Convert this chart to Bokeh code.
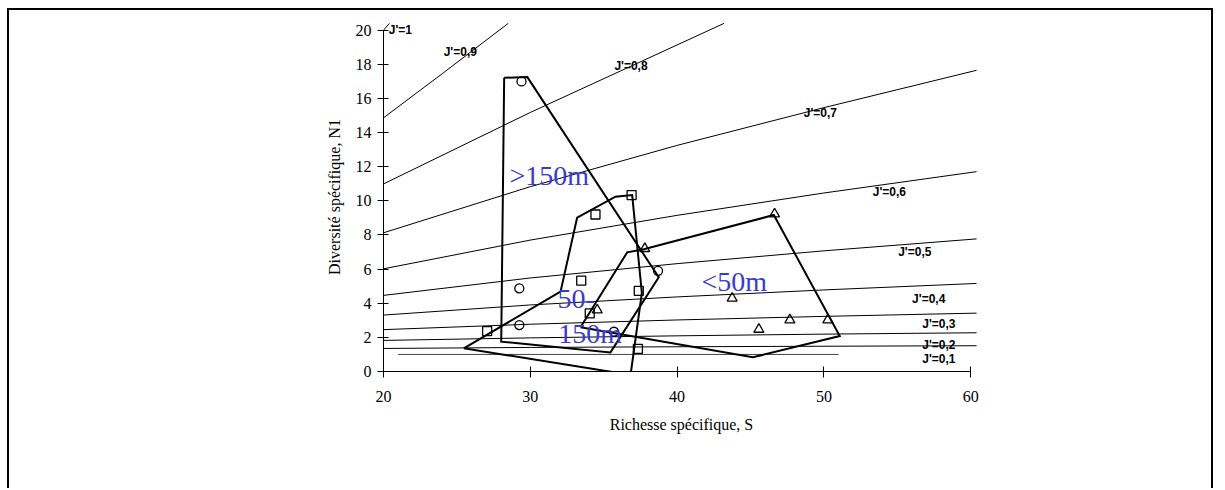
from bokeh.plotting import figure
from bokeh.models import Range1d, FixedTicker
from bokeh.embed import file_html
from bokeh.resources import INLINE
from bokeh.core.properties import value

# ---------------- data ----------------
# stations > 150 m (circles)
deep_S = [29.4, 29.25, 29.25, 35.7, 38.7]
deep_N1 = [17.0, 4.87, 2.72, 2.33, 5.9]
# stations 50-150 m (squares)
mid_S = [36.9, 34.44, 33.47, 34.05, 27.06, 37.39, 37.33]
mid_N1 = [10.34, 9.2, 5.32, 3.41, 2.37, 4.73, 1.32]
# stations < 50 m (triangles)
shal_S = [37.8, 34.56, 43.75, 46.64, 47.68, 45.57, 50.27]
shal_N1 = [7.2, 3.6, 4.29, 9.23, 3.02, 2.47, 3.02]

# hand-drawn envelopes
deep_hull_S = [28.22, 29.8, 38.75, 35.46, 28.02, 28.22]
deep_hull_N1 = [17.21, 17.25, 5.52, 1.12, 1.75, 17.21]
mid_hull_S = [25.47, 32.06, 33.19, 35.8, 36.94, 37.6, 36.83, 25.47]
mid_hull_N1 = [1.36, 4.68, 9.01, 10.24, 10.34, 4.6, -0.2, 1.36]
shal_hull_S = [33.42, 36.6, 37.73, 46.59, 51.08, 45.16, 33.42]
shal_hull_N1 = [2.59, 6.98, 7.16, 9.17, 2.08, 0.83, 2.59]

# iso-evenness curves J' (N1 values read along S)
iso_S = [19.9, 30, 40, 50, 60.4]
iso_07 = [8.1, 10.83, 13.25, 15.46, 17.65]
iso_06 = [6.0, 7.70, 9.15, 10.46, 11.71]
iso_05 = [4.45, 5.48, 6.32, 7.07, 7.77]
iso_04 = [3.3, 3.90, 4.37, 4.78, 5.16]
iso_03 = [2.45, 2.77, 3.02, 3.23, 3.42]
iso_02 = [1.82, 1.97, 2.09, 2.19, 2.27]
iso_01 = [1.35, 1.41, 1.45, 1.48, 1.51]
iso_09_S = [19.9, 24, 28.5]
iso_09 = [14.8, 17.45, 20.4]
iso_08_S = [19.9, 30, 43.2]
iso_08 = [10.95, 15.18, 20.4]
iso_10_S = [19.7, 20.4]
iso_10 = [19.7, 20.4]
one_S = [21, 51]
one_N1 = [1.0, 1.0]

iso_labels = ["J'=1", "J'=0,9", "J'=0,8", "J'=0,7", "J'=0,6", "J'=0,5",
              "J'=0,4", "J'=0,3", "J'=0,2", "J'=0,1"]
iso_label_S = [20.36, 24.1, 35.73, 48.63, 53.33, 55.06, 56.01, 56.7, 56.7, 56.7]
iso_label_N1 = [20.0, 18.7, 17.9, 15.13, 10.53, 7.02, 4.23, 2.78, 1.55, 0.71]

region_labels = [">150m", "50-", "150m", "<50m"]
region_S = [28.58, 31.85, 31.9, 41.66]
region_N1 = [11.51, 4.25, 2.22, 5.30]

x_ticks = [20, 30, 40, 50, 60]
y_ticks = [0, 2, 4, 6, 8, 10, 12, 14, 16, 18, 20]

# ---------------- figure ----------------
p = figure(width=1206, height=480,
           x_range=Range1d(20, 60.6), y_range=Range1d(0, 20.45),
           output_backend="svg", toolbar_location=None,
           min_border_left=374, min_border_right=236,
           min_border_top=12, min_border_bottom=119)
p.styles = {"margin-left": "7px", "margin-top": "8px",
            "border-left": "2px solid black", "border-top": "2px solid black",
            "border-right": "2px solid black"}
p.outline_line_color = None
p.grid.grid_line_color = None
p.background_fill_color = "white"
p.border_fill_color = "white"

SERIF = "Liberation Serif"
SANS = "Liberation Sans"

for ax, ticks, bnds, lab, st, lst in [
        (p.xaxis[0], x_ticks, (20, 60), "Richesse spécifique, S", 13, 11),
        (p.yaxis[0], y_ticks, (0, 20), "Diversité spécifique, N1", 6, 10)]:
    ax.ticker = FixedTicker(ticks=ticks)
    ax.bounds = bnds
    ax.major_tick_in = 5
    ax.major_tick_out = 6
    ax.minor_tick_line_color = None
    ax.axis_line_color = "black"
    ax.major_tick_line_color = "black"
    ax.major_label_text_font = SERIF
    ax.major_label_text_font_size = "16px"
    ax.major_label_text_color = "black"
    ax.major_label_standoff = st
    ax.axis_label = lab
    ax.axis_label_text_font = SERIF
    ax.axis_label_text_font_style = "normal"
    ax.axis_label_text_font_size = "16px"
    ax.axis_label_text_color = "black"
    ax.axis_label_standoff = lst

# iso-evenness curves
for ys in [iso_07, iso_06, iso_05, iso_04, iso_03, iso_02, iso_01]:
    p.line(iso_S, ys, line_color="black", line_width=1)
p.line(iso_09_S, iso_09, line_color="black", line_width=1)
p.line(iso_08_S, iso_08, line_color="black", line_width=1)
p.line(iso_10_S, iso_10, line_color="black", line_width=1)
p.line(one_S, one_N1, line_color="#444444", line_width=1)

p.text(x=iso_label_S, y=iso_label_N1, text=iso_labels,
       text_font=value(SANS), text_font_style="bold", text_font_size="12px",
       text_color="black", text_align="left", text_baseline="middle")

# envelopes
for hs, hn in [(deep_hull_S, deep_hull_N1), (mid_hull_S, mid_hull_N1),
               (shal_hull_S, shal_hull_N1)]:
    p.line(hs, hn, line_color="black", line_width=2, line_join="miter")

# stations
p.scatter(deep_S, deep_N1, marker="circle", size=9, fill_color=None,
          line_color="black", line_width=1.3)
p.scatter(mid_S, mid_N1, marker="square", size=9, fill_color=None,
          line_color="black", line_width=1.3)
p.scatter(shal_S, shal_N1, marker="triangle", size=10, fill_color=None,
          line_color="black", line_width=1.3)

# depth labels
p.text(x=region_S, y=region_N1, text=region_labels,
       text_font=value(SERIF), text_font_size="28px", text_color="#3a3ad0",
       text_align="left", text_baseline="alphabetic")

open("out.html", "w").write(file_html(p, INLINE))
